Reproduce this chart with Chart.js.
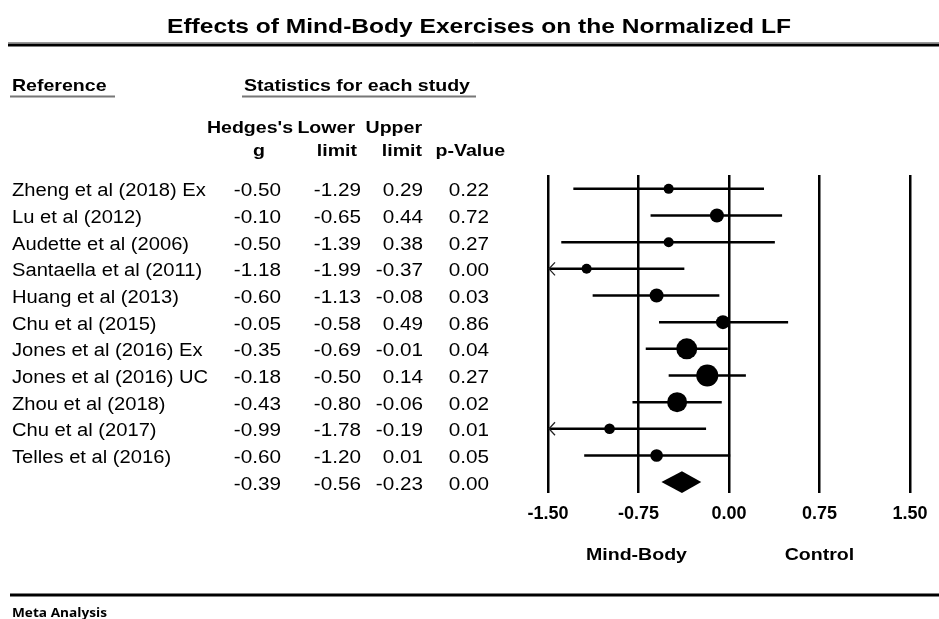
<!DOCTYPE html>
<html>
<head>
<meta charset="utf-8">
<title>Effects of Mind-Body Exercises on the Normalized LF</title>
<script src="https://cdn.jsdelivr.net/npm/chart.js@4.4.0/dist/chart.umd.min.js"></script>
<style>
  html, body { margin: 0; padding: 0; background: #fff; }
  #wrap { width: 939px; height: 619px; }
</style>
</head>
<body>
<div id="wrap"><canvas id="forest" width="939" height="619"></canvas></div>
<script>
// Study data
const studies = [
  'Zheng et al (2018) Ex',
  'Lu et al (2012)',
  'Audette et al (2006)',
  'Santaella et al (2011)',
  'Huang et al (2013)',
  'Chu et al (2015)',
  'Jones et al (2016) Ex',
  'Jones et al (2016) UC',
  'Zhou et al (2018)',
  'Chu et al (2017)',
  'Telles et al (2016)'
];
const hedgesG   = [-0.50, -0.10, -0.50, -1.18, -0.60, -0.05, -0.35, -0.18, -0.43, -0.99, -0.60];
const lowerLim  = [-1.29, -0.65, -1.39, -1.99, -1.13, -0.58, -0.69, -0.50, -0.80, -1.78, -1.20];
const upperLim  = [ 0.29,  0.44,  0.38, -0.37, -0.08,  0.49, -0.01,  0.14, -0.06, -0.19,  0.01];
const pValues   = [ 0.22,  0.72,  0.27,  0.00,  0.03,  0.86,  0.04,  0.27,  0.02,  0.01,  0.05];

// pooled result (last row)
const summaryG = -0.39;
const summaryLower = -0.56;
const summaryUpper = -0.23;
const summaryP = 0.00;

const axisTicks = [-1.50, -0.75, 0.00, 0.75, 1.50];
const favourLabels = ['Mind-Body', 'Control'];

// marker size (study weight), drawn in px
const markerRadius = [5, 7, 5, 5, 7, 7, 10.5, 11, 10, 5.3, 6.3];

const SX = 1.15; // the source picture is a bit stretched sideways
const FONT = '"Liberation Sans", Arial, sans-serif';

function put(ctx, text, x, y, font, align, sx) {
  ctx.save();
  ctx.font = font;
  ctx.fillStyle = '#000';
  ctx.textAlign = align || 'left';
  ctx.textBaseline = 'alphabetic';
  ctx.translate(x, y);
  ctx.scale(sx || SX, 1);
  ctx.fillText(text, 0, 0);
  ctx.restore();
}

function hline(ctx, x1, x2, y, w, color) {
  ctx.save();
  ctx.strokeStyle = color || '#000';
  ctx.lineWidth = w;
  ctx.beginPath();
  ctx.moveTo(x1, y);
  ctx.lineTo(x2, y);
  ctx.stroke();
  ctx.restore();
}

const rowCount = studies.length + 1;

// whisker datasets, one per study
const whiskers = studies.map((name, i) => ({
  label: name,
  data: [{ x: lowerLim[i], y: i }, { x: upperLim[i], y: i }],
  showLine: true,
  borderColor: '#000',
  borderWidth: 2.5,
  pointRadius: 0,
  order: 2
}));

const markers = {
  label: 'Hedges g',
  data: hedgesG.map((g, i) => ({ x: g, y: i })),
  pointRadius: markerRadius,
  pointHoverRadius: markerRadius,
  backgroundColor: '#000',
  borderWidth: 0,
  order: 1
};

const tablePlugin = {
  id: 'forestTable',
  afterDatasetsDraw(chart) {
    const ctx = chart.ctx;
    const xs = chart.scales.x;
    const ys = chart.scales.y;

    // arrows where the CI runs past the axis
    lowerLim.forEach((lo, i) => {
      if (lo < xs.min) {
        const x = xs.getPixelForValue(xs.min);
        const y = ys.getPixelForValue(i);
        ctx.save();
        ctx.strokeStyle = '#222';
        ctx.lineWidth = 1.3;
        ctx.beginPath();
        ctx.moveTo(x + 7, y - 6.5);
        ctx.lineTo(x + 1, y);
        ctx.lineTo(x + 7, y + 6.5);
        ctx.stroke();
        ctx.restore();
      }
    });

    // summary diamond
    const sy = ys.getPixelForValue(studies.length);
    const half = ys.getPixelForValue(studies.length + 0.41) - sy;
    ctx.save();
    ctx.fillStyle = '#000';
    ctx.beginPath();
    ctx.moveTo(xs.getPixelForValue(summaryLower), sy);
    ctx.lineTo(xs.getPixelForValue(summaryG), sy - half);
    ctx.lineTo(xs.getPixelForValue(summaryUpper), sy);
    ctx.lineTo(xs.getPixelForValue(summaryG), sy + half);
    ctx.closePath();
    ctx.fill();
    ctx.restore();
  },
  afterDraw(chart) {
    const ctx = chart.ctx;
    const xs = chart.scales.x;
    const ys = chart.scales.y;

    // title + rules
    put(ctx, 'Effects of Mind-Body Exercises on the Normalized LF', 479, 33, 'bold 21px ' + FONT, 'center', 1.17);
    hline(ctx, 8, 939, 42.5, 1, '#999');
    hline(ctx, 8, 939, 45, 3);

    // group headers
    put(ctx, 'Reference', 12, 91, 'bold 17px ' + FONT, 'left');
    hline(ctx, 10, 115, 96.5, 2, '#777');
    put(ctx, 'Statistics for each study', 244, 91, 'bold 17px ' + FONT, 'left');
    hline(ctx, 242, 476, 96.5, 2, '#777');

    // column headers
    const hf = 'bold 17px ' + FONT;
    put(ctx, "Hedges's", 250, 133, hf, 'center');
    put(ctx, 'Lower', 355, 133, hf, 'right');
    put(ctx, 'Upper', 422, 133, hf, 'right');
    put(ctx, 'g', 259, 156, hf, 'center');
    put(ctx, 'limit', 357, 156, hf, 'right');
    put(ctx, 'limit', 422, 156, hf, 'right');
    put(ctx, 'p-Value', 505, 156, hf, 'right');

    // table rows
    const df = '18px ' + FONT;
    const row = (name, g, lo, up, p, i) => {
      const y = ys.getPixelForValue(i) + 7.5;
      if (name) put(ctx, name, 12, y, df, 'left', 1.12);
      put(ctx, g.toFixed(2), 281, y, df, 'right');
      put(ctx, lo.toFixed(2), 361, y, df, 'right');
      put(ctx, up.toFixed(2), 423, y, df, 'right');
      put(ctx, p.toFixed(2), 489, y, df, 'right');
    };
    studies.forEach((s, i) => row(s, hedgesG[i], lowerLim[i], upperLim[i], pValues[i], i));
    row('', summaryG, summaryLower, summaryUpper, summaryP, studies.length);

    // favours labels under the axis
    put(ctx, favourLabels[0], xs.getPixelForValue(-0.75) - 2, 560, 'bold 17px ' + FONT, 'center');
    put(ctx, favourLabels[1], xs.getPixelForValue(0.75), 560, 'bold 17px ' + FONT, 'center');

    // footer
    hline(ctx, 10, 939, 595, 3);
    put(ctx, 'Meta Analysis', 12, 617, 'bold 13px "Open Sans", sans-serif', 'left', 1.05);
  }
};

const ctx = document.getElementById('forest').getContext('2d');
const chart = new Chart(ctx, {
  type: 'scatter',
  data: { datasets: [markers, ...whiskers] },
  options: {
    responsive: false,
    animation: false,
    events: [],
    layout: { padding: { left: 548, right: 29, top: 175, bottom: 85.7 } },
    plugins: {
      legend: { display: false },
      tooltip: { enabled: false },
      title: { display: false }
    },
    scales: {
      x: {
        type: 'linear',
        min: axisTicks[0],
        max: axisTicks[axisTicks.length - 1],
        afterBuildTicks: (scale) => { scale.ticks = axisTicks.map(v => ({ value: v })); },
        afterFit: (scale) => { scale.height = 40; },
        grid: { color: '#000', lineWidth: 2.5, drawTicks: false },
        border: { display: false },
        ticks: {
          color: '#000',
          padding: 10,
          font: { family: FONT, size: 18, weight: 'bold' },
          callback: (v) => Number(v).toFixed(2)
        }
      },
      y: {
        type: 'linear',
        display: false,
        reverse: true,
        min: -0.52,
        max: rowCount - 1 + 0.42
      }
    }
  },
  plugins: [tablePlugin]
});
</script>
</body>
</html>
